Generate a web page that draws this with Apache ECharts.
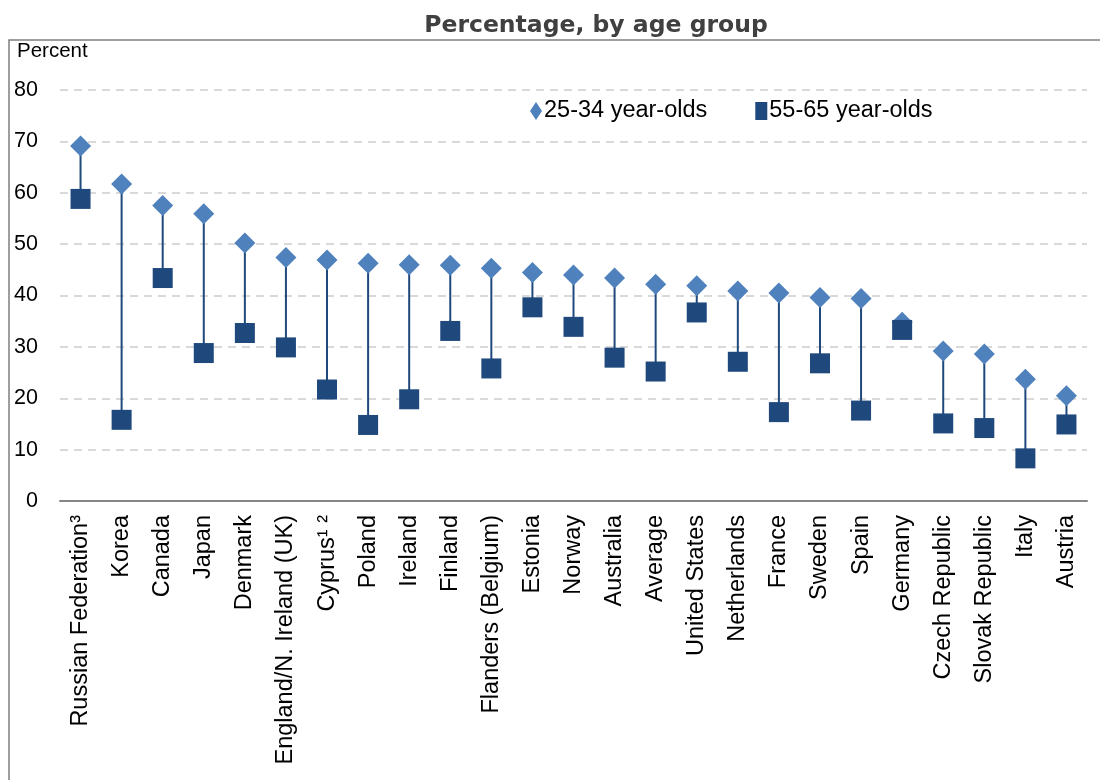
<!DOCTYPE html>
<html>
<head>
<meta charset="utf-8">
<script src="https://cdn.jsdelivr.net/npm/echarts@6/dist/echarts.min.js"></script>
<style>
  html, body { margin: 0; padding: 0; background: #ffffff; }
  #chart { width: 1100px; height: 780px; }
</style>
</head>
<body>
<div id="chart"></div>
<script>
// Countries / economies, ordered by the younger group's share
const categories = [
  'Russian Federation\u00b3', 'Korea', 'Canada', 'Japan', 'Denmark',
  'England/N. Ireland (UK)', 'Cyprus\u00b9 \u00b2', 'Poland', 'Ireland', 'Finland',
  'Flanders (Belgium)', 'Estonia', 'Norway', 'Australia', 'Average',
  'United States', 'Netherlands', 'France', 'Sweden', 'Spain',
  'Germany', 'Czech Republic', 'Slovak Republic', 'Italy', 'Austria'
];

// Percentage of 25-34 year-olds
const young = [
  69.1, 61.7, 57.5, 55.9, 50.2,
  47.4, 46.9, 46.3, 46.0, 45.9,
  45.3, 44.5, 44.0, 43.4, 42.2,
  41.9, 40.9, 40.5, 39.6, 39.4,
  34.8, 29.2, 28.6, 23.7, 20.5
];

// Percentage of 55-65 year-olds
const old = [
  58.8, 15.8, 43.4, 28.8, 32.7,
  29.9, 21.7, 14.8, 19.8, 33.1,
  25.8, 37.7, 33.9, 27.9, 25.2,
  36.7, 27.1, 17.3, 26.8, 17.6,
  33.3, 15.1, 14.2, 8.3, 14.9
];

const yTicks = [0, 10, 20, 30, 40, 50, 60, 70, 80];

const seriesNames = ['25-34 year-olds', '55-65 year-olds'];

const LIGHT = '#4F81BD';
const DARK = '#1F497D';
const FONT = '"Liberation Sans", Arial, sans-serif';

const chart = echarts.init(document.getElementById('chart'), null, { renderer: 'canvas' });

// One [index, high, low] row per category for the connecting stems
const stems = categories.map((c, i) => [i, young[i], old[i]]);

chart.setOption({
  animation: false,
  backgroundColor: '#ffffff',
  title: {
    text: 'Percentage, by age group',
    left: 591,
    textAlign: 'center',
    top: 9,
    textStyle: {
      fontFamily: '"DejaVu Sans", Verdana, sans-serif',
      fontWeight: 'bold',
      fontSize: 23.5,
      color: '#404040'
    }
  },
  graphic: [
    {
      type: 'polyline',
      shape: { points: [[9, 780], [9, 40], [1100, 40]] },
      style: { stroke: '#7f7f7f', lineWidth: 1.5, fill: null },
      silent: true
    },
    {
      type: 'text',
      left: 17,
      top: 41,
      style: { text: 'Percent', font: '20.5px ' + FONT, fill: '#000000' },
      silent: true
    }
  ],
  legend: {
    left: 525,
    top: 94,
    itemGap: 48,
    itemWidth: 12,
    itemHeight: 18,
    textStyle: { fontFamily: FONT, fontSize: 23.5, color: '#000000', padding: [0, 0, 0, -3] },
    data: [
      { name: seriesNames[0], icon: 'diamond' },
      { name: seriesNames[1], icon: 'rect' }
    ]
  },
  grid: { left: 60, right: 13, top: 90, bottom: 279, containLabel: false },
  xAxis: {
    type: 'category',
    data: categories,
    boundaryGap: true,
    axisLine: { lineStyle: { color: '#868686', width: 2 } },
    axisTick: { show: false },
    axisLabel: {
      interval: 0,
      rotate: 90,
      margin: 14,
      fontFamily: FONT,
      fontSize: 23.5,
      color: '#000000'
    }
  },
  yAxis: {
    type: 'value',
    min: yTicks[0],
    max: yTicks[yTicks.length - 1],
    interval: 10,
    axisLine: { show: false },
    axisTick: { show: false },
    axisLabel: {
      margin: 22,
      fontFamily: FONT,
      fontSize: 21.5,
      color: '#000000'
    },
    splitLine: {
      lineStyle: { color: '#d9d9d9', width: 2, type: [8, 6] }
    }
  },
  series: [
    {
      type: 'custom',
      name: 'stem',
      silent: true,
      z: 1,
      data: stems,
      encode: { x: 0, y: [1, 2] },
      renderItem: function (params, api) {
        const top = api.coord([api.value(0), api.value(1)]);
        const bottom = api.coord([api.value(0), api.value(2)]);
        return {
          type: 'line',
          shape: { x1: top[0], y1: top[1], x2: bottom[0], y2: bottom[1] },
          style: { stroke: DARK, lineWidth: 2 }
        };
      }
    },
    {
      type: 'scatter',
      name: seriesNames[0],
      symbol: 'diamond',
      symbolSize: [21, 21],
      z: 3,
      itemStyle: { color: LIGHT, opacity: 1 },
      data: young
    },
    {
      type: 'scatter',
      name: seriesNames[1],
      symbol: 'rect',
      symbolSize: [20, 20],
      z: 4,
      itemStyle: { color: DARK, opacity: 1 },
      data: old
    }
  ]
});
</script>
</body>
</html>
